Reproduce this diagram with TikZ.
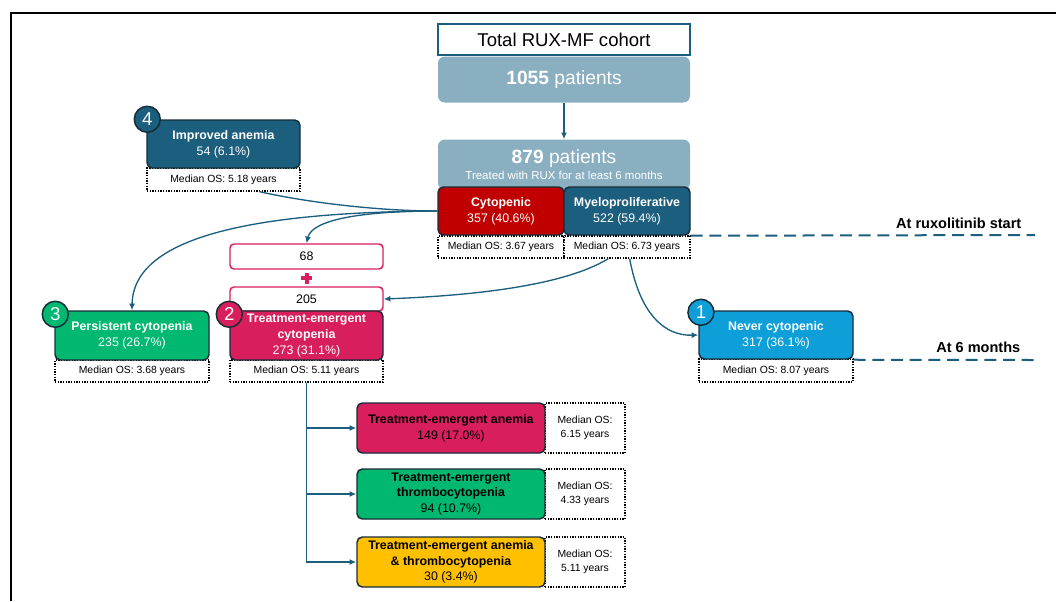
\documentclass[tikz,border=0pt]{standalone}
\usepackage{fontspec}
\setmainfont{Liberation Sans}
\usetikzlibrary{arrows.meta}
\definecolor{ruxteal}{RGB}{27,94,126}
\definecolor{ruxsteel}{RGB}{138,175,192}
\definecolor{ruxred}{RGB}{192,0,0}
\definecolor{ruxpink}{RGB}{216,30,92}
\definecolor{ruxgreen}{RGB}{0,184,112}
\definecolor{ruxsky}{RGB}{14,158,216}
\definecolor{ruxyellow}{RGB}{255,192,0}
\definecolor{ruxedge}{RGB}{24,44,56}
\def\medos#1{Median OS: #1 years}
\tikzset{
	box/.style={draw=ruxedge, line width=1.1pt, rounded corners=4pt, text=white, align=center, font=\fontsize{9.3}{12}\selectfont, inner sep=1pt},
	subbox/.style={box, text=black, minimum width=141pt, minimum height=37.5pt, font=\fontsize{9.3}{11.8}\selectfont},
	osbox/.style={draw=black, line width=1pt, dash pattern=on 1pt off 1pt, fill=white, align=center, font=\fontsize{7.8}{10.5}\selectfont, inner sep=1pt},
	badge/.style={circle, draw=ruxedge, line width=1.1pt, text=white, minimum size=19.5pt, inner sep=0pt, font=\fontsize{14}{14}\selectfont},
	tally/.style={draw=ruxpink, line width=1.1pt, rounded corners=3pt, fill=white, minimum width=114.75pt, font=\fontsize{9.3}{11}\selectfont},
	link/.style={draw=ruxteal, line width=1pt, -{Latex[length=5pt, width=4.5pt]}},
	phase/.style={draw=ruxteal, line width=1.5pt, dash pattern=on 9pt off 5pt},
	phasetext/.style={anchor=east, font=\fontsize{10.9}{12}\selectfont\bfseries},
}

\begin{document}
\begin{tikzpicture}[x=0.75pt, y=-0.75pt]
			%%%%% START %%%%%
			\useasboundingbox (0,0) rectangle (1056,601);
			
			\draw[line width=1.5pt] (10,13) -- (1056,13);
			\draw[line width=1.5pt] (11,13) -- (11,601);
			
			\node[draw=ruxteal, line width=1.1pt, fill=white, minimum width=189pt, minimum height=23.25pt, font=\fontsize{13.9}{16}\selectfont] (total) at (564,39.5) {Total RUX-MF cohort};
			\node[fill=ruxsteel, rounded corners=5pt, text=white, minimum width=189pt, minimum height=34.5pt, font=\fontsize{14.4}{16}\selectfont] (all) at (564,79.5) {\textbf{1055} patients};
			\node[fill=ruxsteel, rounded corners=5pt, text=white, align=center, minimum width=189pt, minimum height=37.5pt, inner sep=1pt] (treated) at (564,164.5) {\fontsize{14.4}{15}\selectfont\textbf{879} patients\\[0pt]\fontsize{8.6}{10}\selectfont Treated with RUX for at least 6 months};
			\draw[link] (all.south) -- (treated.north);
			
			\node[osbox, minimum width=94.5pt, minimum height=16.5pt] (cytoos) at (501,247) {\medos{3.67}};
			\node[osbox, minimum width=94.5pt, minimum height=16.5pt] (myeloos) at (627,247) {\medos{6.73}};
			\node[box, fill=ruxred, minimum width=94.5pt, minimum height=36pt] (cyto) at (501,211) {\textbf{Cytopenic}\\357 (40.6\%)};
			\node[box, fill=ruxteal, minimum width=94.5pt, minimum height=36pt] (myelo) at (627,211) {\textbf{Myeloproliferative}\\522 (59.4\%)};
			
			\coordinate (startend) at (1035,235);
			\draw[phase] (myelo.south east) -- (startend);
			\node[phasetext] (start) at (1026,223) {At ruxolitinib start};
			
			% improved anemia
			\node[osbox, minimum width=114.75pt, minimum height=17.25pt] (improvedos) at (223.5,179.5) {\medos{5.18}};
			\node[box, fill=ruxteal, minimum width=114.75pt, minimum height=36pt] (improved) at (223.5,144) {\textbf{Improved anemia}\\54 (6.1\%)};
			\node[badge, fill=ruxteal] (b4) at ([xshift=0.75pt]improved.north west) {4};
			
			% at 6 months
			\node[osbox, minimum width=115.5pt, minimum height=16.5pt] (persistos) at (132,371) {\medos{3.68}};
			\node[box, fill=ruxgreen, minimum width=115.5pt, minimum height=36.75pt] (persist) at (132,335.5) {\textbf{Persistent cytopenia}\\235 (26.7\%)};
			\node[badge, fill=ruxgreen] (b3) at ([xshift=0.75pt, yshift=-3pt]persist.north west) {3};
			
			\node[tally, minimum height=18.75pt] (first) at (306.5,256.5) {68};
			\node[tally, minimum height=18pt] (second) at (306.5,299) {205};
			\draw[ruxpink, line width=3pt] (301,278) -- (312,278) (306.5,272.5) -- (306.5,283.5);
			\node[osbox, minimum width=114.75pt, minimum height=16.5pt] (emergentos) at (306.5,371) {\medos{5.11}};
			\node[box, fill=ruxpink, minimum width=114.75pt, minimum height=36.75pt, font=\fontsize{9.3}{12.2}\selectfont] (emergent) at (306.5,335.5) {\textbf{Treatment-emergent}\\\textbf{cytopenia}\\273 (31.1\%)};
			\node[badge, fill=ruxpink] (b2) at ([yshift=-3pt]emergent.north west) {2};
			
			\node[osbox, minimum width=115.5pt, minimum height=17.25pt] (neveros) at (776,370.5) {\medos{8.07}};
			\node[box, fill=ruxsky, minimum width=115.5pt, minimum height=36pt] (never) at (776,335) {\textbf{Never cytopenic}\\317 (36.1\%)};
			\node[badge, fill=ruxsky] (b1) at ([xshift=2pt, yshift=-1.5pt]never.north west) {1};
			
			\coordinate (monthsend) at (1035,360);
			\draw[phase] (never.south east) -- (monthsend);
			\node[phasetext] (months) at (1025,347) {At 6 months};
			
			% curves
			\draw[ruxteal, line width=1pt] ([xshift=27pt]improvedos.south) .. controls (310,203) and (380,211) .. (cyto.west);
			\draw[link] (cyto.west) .. controls (260,212) and (133,235) .. (persist.north);
			\draw[link] (cyto.west) .. controls (360,211) and (312,220) .. (first.north);
			\draw[link] ([xshift=-14pt]myeloos.south) .. controls (560,288) and (460,296) .. (second.east);
			\draw[link] ([xshift=2pt]myeloos.south) .. controls (640,315) and (665,336) .. (never.west);
			
			% subgroups
			\node[osbox, minimum width=60pt, minimum height=37.5pt] (anemiaos) at (585,428) {Median OS:\\6.15 years};
			\node[subbox, fill=ruxpink] (anemia) at (451,428) {\textbf{Treatment-emergent anemia}\\149 (17.0\%)};
			\node[osbox, minimum width=60pt, minimum height=37.5pt] (thromboos) at (585,494) {Median OS:\\4.33 years};
			\node[subbox, fill=ruxgreen] (thrombo) at (451,494) {\textbf{Treatment-emergent}\\\textbf{thrombocytopenia}\\94 (10.7\%)};
			\node[osbox, minimum width=60pt, minimum height=37.5pt] (bothos) at (585,562) {Median OS:\\5.11 years};
			\node[subbox, fill=ruxyellow] (both) at (451,562) {\textbf{Treatment-emergent anemia}\\\textbf{\& thrombocytopenia}\\30 (3.4\%)};
			
			\draw[link] (emergentos.south) |- (anemia.west);
			\draw[link] (emergentos.south) |- (thrombo.west);
			\draw[link] (emergentos.south) |- (both.west);
			
			%%%%% END %%%%%
\end{tikzpicture}
\end{document}
